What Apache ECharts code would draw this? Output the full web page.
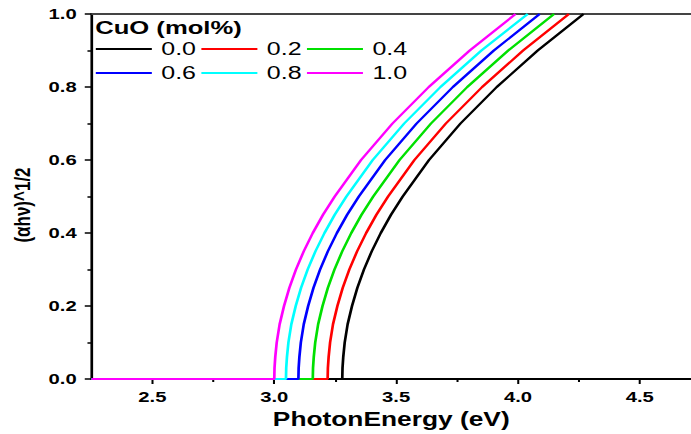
<!DOCTYPE html>
<html>
<head>
<meta charset="utf-8">
<script src="https://cdn.jsdelivr.net/npm/echarts@6/dist/echarts.min.js"></script>
<style>
  html, body { margin: 0; padding: 0; background: #fff; overflow: hidden; }
  /* the original figure is stretched sideways, so draw narrower and stretch it */
  #myChart { width: 512px; height: 434px; transform: scaleX(1.3496); transform-origin: 0 0; }
</style>
</head>
<body>
<div id="myChart"></div>
<script>
const levels = [0, 0.03, 0.06, 0.1, 0.15, 0.2, 0.25, 0.3, 0.35, 0.4, 0.45, 0.5, 0.6, 0.7, 0.8, 0.9, 1.0];

// photon energy (eV) of each curve at those levels
const e00 = [3.279, 3.280, 3.283, 3.289, 3.301, 3.319, 3.341, 3.368, 3.400, 3.437, 3.479, 3.527, 3.635, 3.764, 3.913, 4.081, 4.269];
const e02 = [3.219, 3.220, 3.223, 3.229, 3.241, 3.259, 3.281, 3.308, 3.340, 3.377, 3.419, 3.467, 3.575, 3.704, 3.853, 4.021, 4.209];
const e04 = [3.158, 3.159, 3.162, 3.168, 3.180, 3.198, 3.220, 3.247, 3.279, 3.316, 3.358, 3.406, 3.514, 3.643, 3.792, 3.960, 4.148];
const e06 = [3.099, 3.100, 3.103, 3.109, 3.121, 3.139, 3.161, 3.188, 3.220, 3.257, 3.299, 3.347, 3.455, 3.584, 3.733, 3.901, 4.089];
const e08 = [3.048, 3.049, 3.052, 3.058, 3.070, 3.088, 3.110, 3.137, 3.169, 3.206, 3.248, 3.296, 3.404, 3.533, 3.682, 3.850, 4.040];
const e10 = [3.000, 3.001, 3.004, 3.010, 3.022, 3.040, 3.062, 3.089, 3.121, 3.158, 3.200, 3.248, 3.356, 3.485, 3.634, 3.802, 3.990];

const names = ['0.0', '0.2', '0.4', '0.6', '0.8', '1.0'];
const colors = ['#000000', '#ff0000', '#00e000', '#0000ff', '#00ffff', '#ff00ff'];

const xMin = 2.25;
const xMax = 4.71;
const xMajor = [2.5, 3.0, 3.5, 4.0, 4.5];
const xMinor = [2.75, 3.25, 3.75, 4.25];

const font = 'Liberation Sans, Arial, sans-serif';

// flat zero part from the left edge, then the curve
function curve(energies) {
  const pts = [[xMin, 0]];
  energies.forEach((e, i) => pts.push([e, levels[i]]));
  return pts;
}

const curves = [e00, e02, e04, e06, e08, e10];

const myChart = echarts.init(document.getElementById('myChart'), null, { renderer: 'svg' });

const legendBase = {
  orient: 'horizontal',
  icon: 'rect',
  itemWidth: 41.5,
  itemHeight: 2,
  itemGap: 4,
  padding: 0,
  textStyle: { fontSize: 18.5, fontFamily: font, color: '#000', lineHeight: 19, padding: [0, 0, 0, 2] }
};

const option = {
  animation: false,
  backgroundColor: '#fff',
  title: {
    text: 'CuO (mol%)',
    left: 70.5,
    top: 18.5,
    padding: 0,
    textStyle: { fontSize: 19, fontWeight: 'bold', fontFamily: font, color: '#000' }
  },
  legend: [
    Object.assign({}, legendBase, { data: names.slice(0, 3), left: 71, top: 39.5 }),
    Object.assign({}, legendBase, { data: names.slice(3), left: 71, top: 63.5 })
  ],
  grid: { left: 67.8, right: 0, top: 14, bottom: 55 },
  xAxis: [
    {
      type: 'value',
      min: xMin,
      max: xMax,
      position: 'bottom',
      name: 'PhotonEnergy (eV)',
      nameLocation: 'middle',
      nameGap: 25,
      nameTextStyle: { fontSize: 19.5, fontWeight: 'bold', fontFamily: font, color: '#000' },
      axisLine: { lineStyle: { color: '#000', width: 2 } },
      axisTick: { customValues: xMajor, length: 5, lineStyle: { color: '#000', width: 1.5 } },
      axisLabel: {
        customValues: xMajor,
        formatter: v => v.toFixed(1),
        fontSize: 15, fontWeight: 'bold', fontFamily: font, color: '#000', margin: 10
      },
      splitLine: { show: false }
    },
    {
      // minor ticks
      type: 'value',
      min: xMin,
      max: xMax,
      position: 'bottom',
      axisLine: { show: false },
      axisTick: { customValues: xMinor, length: 3, lineStyle: { color: '#000', width: 1.5 } },
      axisLabel: { show: false },
      splitLine: { show: false }
    },
    {
      // top frame line
      type: 'value',
      min: xMin,
      max: xMax,
      position: 'top',
      axisLine: { lineStyle: { color: '#444', width: 2 } },
      axisTick: { show: false },
      axisLabel: { show: false },
      splitLine: { show: false }
    }
  ],
  yAxis: {
    type: 'value',
    min: 0,
    max: 1,
    interval: 0.2,
    name: '(\u03b1h\u03bd)^1/2',
    nameLocation: 'middle',
    nameGap: 38,
    nameRotate: 90,
    nameTextStyle: { fontSize: 17, fontWeight: 'bold', fontFamily: font, color: '#000', padding: [0, 17, 0, 0] },
    axisLine: { show: true, lineStyle: { color: '#000', width: 2 } },
    axisTick: { show: true, length: 5, lineStyle: { color: '#000', width: 1.5 } },
    minorTick: { show: true, splitNumber: 2, length: 3, lineStyle: { color: '#000', width: 1.5 } },
    axisLabel: {
      formatter: v => v.toFixed(1),
      fontSize: 15, fontWeight: 'bold', fontFamily: font, color: '#000', margin: 11
    },
    splitLine: { show: false }
  },
  series: names.map((n, i) => ({
    name: n,
    type: 'line',
    xAxisIndex: 0,
    data: curve(curves[i]),
    symbol: 'none',
    color: colors[i],
    lineStyle: { color: colors[i], width: 2 }
  }))
};

myChart.setOption(option);
</script>
</body>
</html>
